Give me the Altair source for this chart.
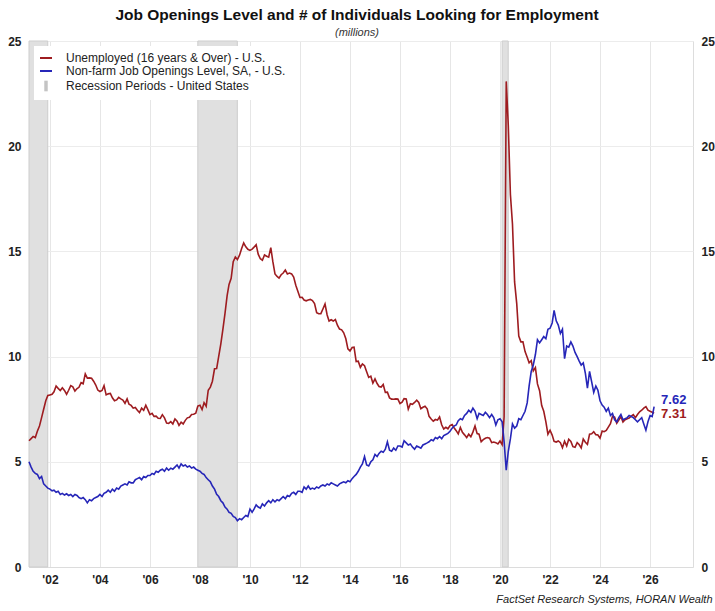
import altair as alt
import pandas as pd

UNEMP = "Unemployed (16 years & Over) - U.S."
JOLTS = "Non-farm Job Openings Level, SA, - U.S."
REC = "Recession Periods - United States"

first_month = "2001-03-01"

unemployed = [
    # 2001 (Mar-Dec)
    6.00, 6.10, 6.20, 6.15, 6.45, 6.70, 7.10, 7.50, 7.90, 8.15,
    # 2002
    8.18, 8.21, 8.33, 8.60, 8.49, 8.39, 8.52, 8.39, 8.21, 8.40, 8.62, 8.56,
    # 2003
    8.36, 8.48, 8.54, 8.76, 8.71, 9.18, 8.98, 8.99, 8.97, 8.83, 8.65, 8.41,
    # 2004
    8.34, 8.39, 8.62, 8.18, 8.23, 8.25, 8.04, 7.90, 7.94, 8.06, 7.99, 7.93,
    # 2005
    7.78, 7.99, 7.74, 7.68, 7.55, 7.58, 7.45, 7.34, 7.55, 7.45, 7.69, 7.48,
    # 2006
    7.24, 7.30, 7.16, 7.17, 7.07, 7.06, 7.24, 7.09, 6.84, 6.83, 6.91, 6.80,
    # 2007
    7.04, 6.93, 6.73, 6.88, 6.80, 6.97, 7.09, 7.12, 7.25, 7.26, 7.31, 7.65,
    # 2008
    7.69, 7.48, 7.81, 7.64, 8.40, 8.55, 8.83, 9.42, 9.43, 10.01, 10.61, 11.29,
    # 2009
    12.05, 12.90, 13.43, 13.72, 14.51, 14.73, 14.61, 14.82, 15.14, 15.40, 15.22, 15.10,
    # 2010
    15.05, 15.11, 15.20, 15.32, 14.87, 14.65, 14.58, 14.83, 14.77, 14.73, 15.18, 14.51,
    # 2011
    13.93, 13.81, 13.73, 13.89, 13.97, 14.11, 13.93, 13.97, 13.93, 13.78, 13.39, 13.11,
    # 2012
    12.81, 12.82, 12.69, 12.65, 12.69, 12.72, 12.66, 12.52, 12.09, 12.04, 12.04, 12.26,
    # 2013
    12.50, 11.98, 11.69, 11.75, 11.69, 11.76, 11.49, 11.31, 11.27, 11.13, 10.85, 10.37,
    # 2014
    10.27, 10.43, 10.45, 9.76, 9.78, 9.49, 9.65, 9.57, 9.28, 9.01, 9.07, 8.74,
    # 2015
    8.94, 8.72, 8.58, 8.55, 8.67, 8.30, 8.31, 8.04, 7.98, 7.97, 7.99, 7.98,
    # 2016
    7.77, 7.83, 8.00, 7.99, 7.50, 7.76, 7.73, 7.82, 7.93, 7.82, 7.52, 7.59,
    # 2017
    7.64, 7.52, 7.16, 7.03, 6.93, 7.01, 6.98, 7.13, 6.76, 6.56, 6.64, 6.57,
    # 2018
    6.72, 6.77, 6.62, 6.48, 6.33, 6.63, 6.40, 6.28, 6.15, 6.31, 6.19, 6.41,
    # 2019
    6.70, 6.34, 6.31, 5.95, 6.05, 6.12, 6.15, 6.12, 5.91, 5.94, 5.91, 5.85,
    # 2020
    5.99, 5.82, 7.14, 23.08, 20.98, 17.70, 16.30, 13.55, 12.53, 10.98, 10.70, 10.70,
    # 2021
    10.24, 9.97, 9.71, 9.81, 9.32, 9.48, 8.70, 8.38, 7.67, 7.40, 6.90, 6.31,
    # 2022
    6.50, 6.27, 5.97, 5.94, 5.99, 5.91, 5.67, 5.98, 5.75, 6.07, 5.97, 5.72,
    # 2023
    5.69, 5.91, 5.82, 5.66, 6.08, 5.93, 5.83, 6.31, 6.33, 6.43, 6.29, 6.27,
    # 2024
    6.12, 6.46, 6.43, 6.49, 6.65, 6.81, 7.16, 7.12, 6.83, 6.98, 7.15, 6.89,
    # 2025
    7.00, 7.05, 7.08, 7.17, 7.24, 7.10, 7.25, 7.38, 7.45, 7.55, 7.62, 7.45,
    # 2026 (Jan-Mar)
    7.40, 7.36, 7.31,
]

job_openings = [
    # 2001 (Mar-Dec)
    5.00, 4.75, 4.55, 4.45, 4.40, 4.20, 4.30, 3.95, 3.85, 3.75,
    # 2002
    3.70, 3.62, 3.65, 3.55, 3.60, 3.45, 3.50, 3.42, 3.48, 3.40, 3.45, 3.35,
    # 2003
    3.45, 3.40, 3.30, 3.25, 3.30, 3.20, 3.05, 3.20, 3.15, 3.25, 3.30, 3.35,
    # 2004
    3.45, 3.35, 3.50, 3.55, 3.65, 3.55, 3.70, 3.60, 3.75, 3.70, 3.85, 3.90,
    # 2005
    3.95, 3.90, 4.05, 4.00, 4.00, 4.15, 4.20, 4.25, 4.15, 4.30, 4.25, 4.35,
    # 2006
    4.35, 4.45, 4.40, 4.55, 4.50, 4.60, 4.65, 4.55, 4.70, 4.60, 4.70, 4.65,
    # 2007
    4.75, 4.85, 4.70, 4.90, 4.80, 4.85, 4.75, 4.80, 4.70, 4.75, 4.65, 4.60,
    # 2008
    4.55, 4.45, 4.40, 4.25, 4.15, 4.05, 3.85, 3.70, 3.45, 3.35, 3.15, 3.05,
    # 2009
    2.85, 2.75, 2.60, 2.55, 2.40, 2.35, 2.20, 2.30, 2.25, 2.35, 2.45, 2.40,
    # 2010
    2.75, 2.60, 2.75, 2.95, 2.85, 2.80, 3.00, 2.90, 3.05, 3.15, 3.05, 3.20,
    # 2011
    3.10, 3.20, 3.15, 3.25, 3.35, 3.25, 3.40, 3.35, 3.50, 3.55, 3.45, 3.60,
    # 2012
    3.60, 3.55, 3.80, 3.70, 3.85, 3.70, 3.75, 3.70, 3.80, 3.75, 3.85, 3.90,
    # 2013
    3.85, 3.95, 3.90, 4.00, 3.95, 3.90, 3.85, 3.95, 4.00, 4.05, 4.00, 4.10,
    # 2014
    4.05, 4.20, 4.30, 4.40, 4.55, 4.75, 4.90, 5.25, 4.85, 4.80, 5.00, 5.10,
    # 2015
    5.35, 5.25, 5.40, 5.50, 5.45, 5.60, 5.95, 5.55, 5.50, 5.65, 5.55, 5.75,
    # 2016
    5.75, 5.70, 6.00, 5.90, 5.80, 5.85, 5.70, 5.60, 5.75, 5.70, 5.65, 5.80,
    # 2017
    5.85, 5.90, 5.95, 6.05, 6.00, 6.15, 6.10, 6.20, 6.10, 6.25, 6.30, 6.35,
    # 2018
    6.45, 6.60, 6.70, 6.75, 6.95, 7.05, 7.00, 7.20, 7.30, 7.45, 7.35, 7.55,
    # 2019
    7.40, 7.05, 7.30, 7.25, 7.20, 7.35, 7.25, 7.10, 7.25, 7.10, 6.75, 7.00,
    # 2020
    7.05, 6.90, 5.95, 4.60, 5.50, 6.10, 6.80, 6.60, 6.70, 7.05, 7.00, 7.20,
    # 2021
    7.40, 7.80, 8.60, 9.30, 9.60, 10.10, 10.80, 10.65, 10.80, 10.95, 10.85, 11.30,
    # 2022
    11.35, 11.60, 12.20, 11.70, 11.50, 11.10, 11.30, 9.90, 10.50, 10.45, 10.70, 10.50,
    # 2023
    10.20, 10.00, 9.80, 9.60, 9.70, 9.20, 8.50, 9.30, 8.80, 8.30, 8.60, 8.40,
    # 2024
    7.90, 7.70, 7.60, 7.40, 7.55, 7.20, 7.30, 7.00, 6.90, 7.10, 7.25, 7.00,
    # 2025
    7.05, 7.10, 7.20, 7.15, 7.10, 7.00, 6.90, 7.00, 7.10, 6.80, 6.50, 6.90,
    # 2026 (Jan-Mar)
    7.20, 7.15, 7.62,
]

rec_start = ["2001-03-01", "2007-12-01", "2020-02-01"]
rec_end = ["2001-11-30", "2009-06-30", "2020-04-30"]

tick_years = [2002, 2004, 2006, 2008, 2010, 2012, 2014, 2016, 2018, 2020, 2022, 2024, 2026]
y_ticks = [0, 5, 10, 15, 20, 25]

RED = "#9e1c20"
BLUE = "#2626b8"
BAND = "#e0e0e0"
BAND_KEY = "#c4c4c4"
BAR = "M-0.12,-0.72L0.12,-0.72L0.12,0.72L-0.12,0.72Z"

u_df = pd.DataFrame({
    "date": pd.date_range(first_month, periods=len(unemployed), freq="MS"),
    "value": unemployed, "series": UNEMP})
j_df = pd.DataFrame({
    "date": pd.date_range(first_month, periods=len(job_openings), freq="MS"),
    "value": job_openings, "series": JOLTS})
lines_df = pd.concat([u_df, j_df], ignore_index=True)
rec_df = pd.DataFrame({"start": pd.to_datetime(rec_start), "end": pd.to_datetime(rec_end), "series": REC})
end_u = u_df.tail(1).assign(label=lambda d: d["value"].map(lambda v: f"{v:.2f}"))
end_j = j_df.tail(1).assign(label=lambda d: d["value"].map(lambda v: f"{v:.2f}"))

FONT = "Liberation Sans"

x_scale = alt.Scale(domain=[alt.DateTime(year=2001, month=3, date=1),
                            alt.DateTime(year=2027, month=9, date=20)], nice=False)
y_scale = alt.Scale(domain=[0, 25], nice=False, zero=True)

x_axis = alt.Axis(
    values=[alt.DateTime(year=y, month=1, date=1) for y in tick_years],
    format="'%y", labelFont=FONT, labelFontWeight="bold", labelFontSize=12,
    labelColor="#222222", ticks=False, labelPadding=7, grid=True,
    gridColor="#e6e6e6", domainColor="#dcdcdc",
    title="FactSet Research Systems, HORAN Wealth", titleFont=FONT,
    titleFontStyle="italic", titleFontWeight="normal", titleFontSize=11,
    titleColor="#222222", titleAnchor="end", titleAlign="right", titleX=683,
    titleY=35, titleBaseline="alphabetic",
)

y_axis_left = alt.Axis(values=y_ticks, orient="left", labelFont=FONT, labelFontWeight="bold",
                       labelFontSize=12, labelColor="#222222", ticks=False, domain=False,
                       labelPadding=8, grid=True, gridColor="#ececec", title=None)
y_axis_right = alt.Axis(values=y_ticks, orient="right", labelFont=FONT, labelFontWeight="bold",
                        labelFontSize=12, labelColor="#222222", ticks=False, domain=False,
                        labelPadding=8, grid=False, title=None)

legend = alt.Legend(
    title=None, orient="top-left", offset=5, fillColor="white", padding=5,
    labelFont=FONT, labelFontSize=12, labelColor="#222222", labelOffset=13,
    labelLimit=400, symbolSize=144, symbolStrokeWidth=2, rowPadding=0, symbolOpacity=1,
)

series_domain = [UNEMP, JOLTS, REC]
color_scale = alt.Scale(domain=series_domain, range=[RED, BLUE, BAND_KEY])
shape_scale = alt.Scale(domain=series_domain, range=["stroke", "stroke", BAR])

rec_layer = alt.Chart(rec_df).mark_rect(fill=BAND, stroke="#cdcdcd", strokeWidth=1).encode(
    x=alt.X("start:T", scale=x_scale, axis=x_axis),
    x2="end:T",
)

line_layer = alt.Chart(lines_df).mark_line(strokeWidth=1.6).encode(
    x=alt.X("date:T", scale=x_scale, axis=x_axis),
    y=alt.Y("value:Q", scale=y_scale, axis=y_axis_left),
    color=alt.Color("series:N", scale=color_scale, legend=legend),
)

# invisible point layer: carries the key symbols and the right-hand axis
key_layer = alt.Chart(lines_df).mark_point(strokeWidth=2, opacity=0).encode(
    x=alt.X("date:T", scale=x_scale, axis=x_axis),
    y=alt.Y("value:Q", scale=y_scale, axis=y_axis_right),
    color=alt.Color("series:N", scale=color_scale, legend=legend),
    shape=alt.Shape("series:N", scale=shape_scale, legend=legend),
)

lab_j = alt.Chart(end_j).mark_text(align="left", baseline="middle", dx=7, dy=-7, font=FONT,
                                    fontWeight="bold", fontSize=13, color=BLUE).encode(
    x=alt.X("date:T", scale=x_scale, axis=x_axis),
    y=alt.Y("value:Q", scale=y_scale, axis=None),
    text="label:N",
)
lab_u = alt.Chart(end_u).mark_text(align="left", baseline="middle", dx=7, dy=1, font=FONT,
                                    fontWeight="bold", fontSize=13, color=RED).encode(
    x=alt.X("date:T", scale=x_scale, axis=x_axis),
    y=alt.Y("value:Q", scale=y_scale, axis=None),
    text="label:N",
)

chart = alt.layer(rec_layer, line_layer, key_layer, lab_j, lab_u).resolve_scale(
    y="independent"
).properties(
    width=664, height=526,
    padding={"left": 29, "top": 41, "right": 22, "bottom": 44},
    autosize=alt.AutoSizeParams(type="none"),
    title=alt.TitleParams(
        text="Job Openings Level and # of Individuals Looking for Employment",
        subtitle="(millions)", font=FONT, fontSize=15.5, fontWeight="bold",
        color="#111111", subtitleFont=FONT, subtitleFontStyle="italic", subtitleFontSize=11,
        subtitleColor="#333333", subtitlePadding=4, anchor="middle", offset=-3, dx=-4,
    ),
).configure_view(stroke="#e2e2e2").configure(background="white")

chart.save("out.html", embed_options={"renderer": "svg", "actions": False})
